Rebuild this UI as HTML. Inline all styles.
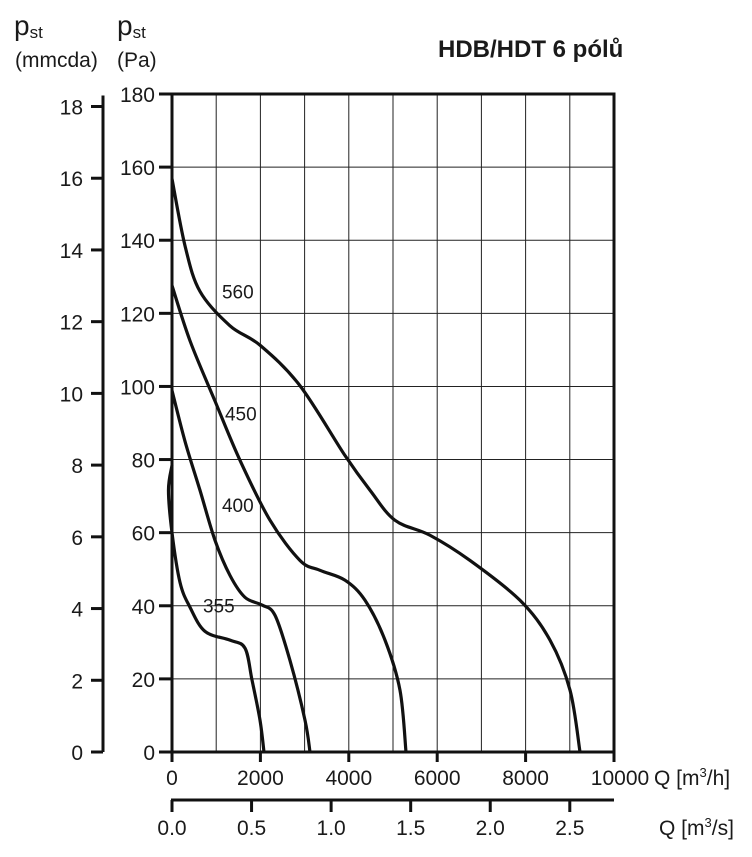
<!DOCTYPE html>
<html><head><meta charset="utf-8"><style>
body{margin:0;background:#fff;font-family:"Liberation Sans",sans-serif}
svg text{font-family:"Liberation Sans",sans-serif;fill:#1a1a1a}
</style></head><body>
<svg id="c" width="752" height="852" xmlns="http://www.w3.org/2000/svg">
<text x="14" y="35" font-size="28">p<tspan font-size="17" dy="3">st</tspan></text>
<text x="15" y="67" font-size="21">(mmcda)</text>
<text x="117" y="35" font-size="28">p<tspan font-size="17" dy="3">st</tspan></text>
<text x="117" y="67" font-size="21">(Pa)</text>
<text x="438" y="57" font-size="24" font-weight="bold">HDB/HDT 6 pólů</text>
<g id="grid"></g><g id="curves"></g><g id="axes"></g>
</svg>
<script>
const xTicks=[0,2000,4000,6000,8000,10000];
const yTicks=[0,20,40,60,80,100,120,140,160,180];
const mmTicks=[0,2,4,6,8,10,12,14,16,18];
const m3sTicks=[0.0,0.5,1.0,1.5,2.0,2.5];
const curveNames=['355','400','450','560'];
const q355=[0,-80,0,181,407,747,1312,1652,1810,1991,2081];
const p355=[78.4,71.6,60,46.4,39.6,33,30.6,28.4,19.7,8.7,0];
const q400=[0,294,633,973,1312,1652,2036,2330,2670,3009,3122];
const p400=[98.9,85,71.6,57.9,48.3,42.3,40.2,37.4,25,8.7,0];
const q450=[0,407,973,1538,2217,2896,3348,3914,4367,4819,5158,5294];
const p450=[127.6,112.5,96,79.8,63.4,52.4,49.7,47,41.5,30.6,16.9,0];
const q560=[0,294,633,1312,2000,2896,3914,4480,5045,5837,6742,7873,8552,9005,9231];
const p560=[156.8,138.5,126,116.6,111.2,100.2,81.1,71.6,63.4,59.3,52.4,41.5,30.6,16.9,0];
const labelQ=[700,1131,1199,1131];
const labelP=[38.2,65.6,90.7,124];
const X0=172,X1=614,Y0=752,Y1=94;
const sx=q=>X0+q/10000*(X1-X0), sy=p=>Y0-p/180*(Y0-Y1);
const NS='http://www.w3.org/2000/svg';
function mk(t,a,parent){const e=document.createElementNS(NS,t);for(const k in a)e.setAttribute(k,a[k]);document.getElementById(parent).appendChild(e);return e;}
for(let q=1000;q<10000;q+=1000){const l=mk('line',{x1:sx(q),x2:sx(q),y1:Y1,y2:Y0,stroke:'#222','stroke-width':1},'grid');

}
yTicks.forEach(p=>{if(p>0&&p<180){const l=mk('line',{x1:X0,x2:X1,y1:sy(p),y2:sy(p),stroke:'#222','stroke-width':1},'grid');

}});
const qs=[q355,q400,q450,q560],ps=[p355,p400,p450,p560];
function spline(pts){let d=`M${pts[0][0]},${pts[0][1]}`;for(let i=0;i<pts.length-1;i++){const p0=pts[i-1]||pts[i],p1=pts[i],p2=pts[i+1],p3=pts[i+2]||p2;
d+=` C${p1[0]+(p2[0]-p0[0])/6},${p1[1]+(p2[1]-p0[1])/6} ${p2[0]-(p3[0]-p1[0])/6},${p2[1]-(p3[1]-p1[1])/6} ${p2[0]},${p2[1]}`;}return d;}
curveNames.forEach((n,i)=>{const pts=qs[i].map((q,j)=>[sx(q),sy(ps[i][j])]);
const c=mk('path',{d:spline(pts),fill:'none',stroke:'#111','stroke-width':3.2},'curves');


const t=mk('text',{x:sx(labelQ[i]),y:sy(labelP[i]),'font-size':19},'curves');t.textContent=n;

});
const fr=mk('path',{d:`M${X0},${Y0} L${X0},${Y1} L${X1},${Y1} L${X1},${Y0} Z`,fill:'none',stroke:'#111','stroke-width':3},'axes');


yTicks.forEach(p=>{const l=mk('line',{x1:X0-13,x2:X0,y1:sy(p),y2:sy(p),stroke:'#111','stroke-width':3},'axes');


const t=mk('text',{x:X0-17,y:sy(p)+8,'font-size':21,'text-anchor':'end'},'axes');t.textContent=p;

});
xTicks.forEach(q=>{const l=mk('line',{x1:sx(q),x2:sx(q),y1:Y0,y2:Y0+10,stroke:'#111','stroke-width':3},'axes');


const t=mk('text',{x:q===10000?sx(q)+6:sx(q),y:Y0+33,'font-size':21,'text-anchor':'middle'},'axes');t.textContent=q;

});
const xu=mk('text',{x:654,y:785,'font-size':21},'axes');xu.innerHTML='Q [m<tspan font-size="13" dy="-8">3</tspan><tspan dy="8">/h]</tspan>';


const ml=mk('line',{x1:103,x2:103,y1:sy(18*9.81)-11,y2:Y0,stroke:'#111','stroke-width':3},'axes');


mmTicks.forEach(m=>{const y=sy(m*9.81);const l=mk('line',{x1:91,x2:103,y1:y,y2:y,stroke:'#111','stroke-width':3},'axes');


const t=mk('text',{x:83,y:y+8,'font-size':21,'text-anchor':'end'},'axes');t.textContent=m;

});
const sl=mk('line',{x1:X0-1,x2:X1,y1:800,y2:800,stroke:'#111','stroke-width':3},'axes');


m3sTicks.forEach(v=>{const x=sx(v*3600);const l=mk('line',{x1:x,x2:x,y1:800,y2:812,stroke:'#111','stroke-width':3},'axes');


const t=mk('text',{x:x,y:835,'font-size':21,'text-anchor':'middle'},'axes');t.textContent=v.toFixed(1);

});
const su=mk('text',{x:659,y:835,'font-size':21},'axes');su.innerHTML='Q [m<tspan font-size="13" dy="-8">3</tspan><tspan dy="8">/s]</tspan>';


</script>
</body></html>
